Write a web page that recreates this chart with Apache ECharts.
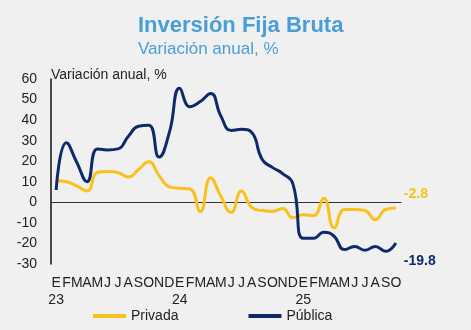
<!DOCTYPE html>
<html>
<head>
<meta charset="utf-8">
<script src="https://cdn.jsdelivr.net/npm/echarts@6/dist/echarts.min.js"></script>
<style>
  html, body { margin: 0; padding: 0; background: #f0f0f0; }
  #chart { width: 471px; height: 330px; }
</style>
</head>
<body>
<div id="chart"></div>
<script>
// Monthly categories Jan 2023 – Oct 2025 (Spanish month initials)
const months = ['E','F','M','A','M','J','J','A','S','O','N','D',
                'E','F','M','A','M','J','J','A','S','O','N','D',
                'E','F','M','A','M','J','J','A','S','O'];
const years = {0: '23', 12: '24', 24: '25'};

// Annual change, %
const privada = [10.5, 10, 8, 5.5, 14.5, 15, 14.5, 12.3, 16, 19.8, 13, 7.5,
                 6.8, 6.5, -4.5, 12, 3, -5, 5.5, -2.5, -4, -4.4, -3, -7.5,
                 -6, -6.5, 2, -12.5, -3.5, -3.5, -4, -8.5, -3.5, -2.8];
const publica = [6, 29, 19.5, 10, 26, 25.5, 26, 32, 37, 37.5, 22, 34,
                 55.5, 46.5, 49, 53, 42, 35, 35.5, 34, 21, 17, 14, 9,
                 -17.5, -17.5, -14.5, -16.5, -23, -21.5, -23.3, -21.5, -23.8, -19.8];

const yTicks = {min: -30, max: 60, step: 10};

const cPriv = '#f9c11c';
const cPub = '#0e2a6b';
const font = 'Liberation Sans, Arial, sans-serif';

const chart = echarts.init(document.getElementById('chart'));
chart.setOption({
  backgroundColor: '#f0f0f0',
  animation: false,
  title: {
    text: 'Inversión Fija Bruta',
    subtext: 'Variación anual, %',
    left: 138,
    top: 15,
    itemGap: 4,
    padding: 0,
    textStyle: { fontFamily: font, fontSize: 22, fontWeight: 'bold', color: '#4a9ed6' },
    subtextStyle: { fontFamily: font, fontSize: 17, color: '#4a9ed6' }
  },
  legend: {
    left: 88,
    top: 304,
    itemWidth: 33,
    itemHeight: 4,
    itemGap: 70,
    icon: 'rect',
    textStyle: { fontFamily: font, fontSize: 14, color: '#222' },
    data: ['Privada', 'Pública']
  },
  grid: { left: 51, right: 70, top: 79, bottom: 66, containLabel: false },
  xAxis: {
    type: 'category',
    data: months,
    boundaryGap: true,
    axisLine: { onZero: true, lineStyle: { color: '#333', width: 1 } },
    axisTick: { show: false },
    axisLabel: {
      interval: 0,
      margin: 11,
      fontFamily: font,
      fontSize: 14,
      color: '#222',
      lineHeight: 17,
      formatter: (v, i) => years[i] !== undefined ? v + '\n' + years[i] : v
    }
  },
  yAxis: {
    type: 'value',
    min: yTicks.min,
    max: yTicks.max,
    interval: yTicks.step,
    name: 'Variación anual, %',
    nameLocation: 'end',
    nameGap: -3,
    nameTextStyle: { fontFamily: font, fontSize: 14, color: '#222', align: 'left', verticalAlign: 'bottom' },
    axisLine: { show: true, lineStyle: { color: '#111', width: 1.5 } },
    axisTick: { show: false },
    splitLine: { show: false },
    axisLabel: { fontFamily: font, fontSize: 14, color: '#222', margin: 14 }
  },
  series: [
    {
      name: 'Privada',
      type: 'line',
      data: privada,
      smooth: 0.5,
      symbol: 'none',
      lineStyle: { color: cPriv, width: 3 },
      itemStyle: { color: cPriv },
      endLabel: {
        show: true,
        offset: [0, -14],
        formatter: p => p.value.toFixed(1),
        fontFamily: font, fontSize: 14, fontWeight: 'bold', color: cPriv
      }
    },
    {
      name: 'Pública',
      type: 'line',
      data: publica,
      smooth: 0.5,
      symbol: 'none',
      lineStyle: { color: cPub, width: 3 },
      itemStyle: { color: cPub },
      endLabel: {
        show: true,
        offset: [0, 18],
        formatter: p => p.value.toFixed(1),
        fontFamily: font, fontSize: 14, fontWeight: 'bold', color: cPub
      }
    }
  ]
});
</script>
</body>
</html>
